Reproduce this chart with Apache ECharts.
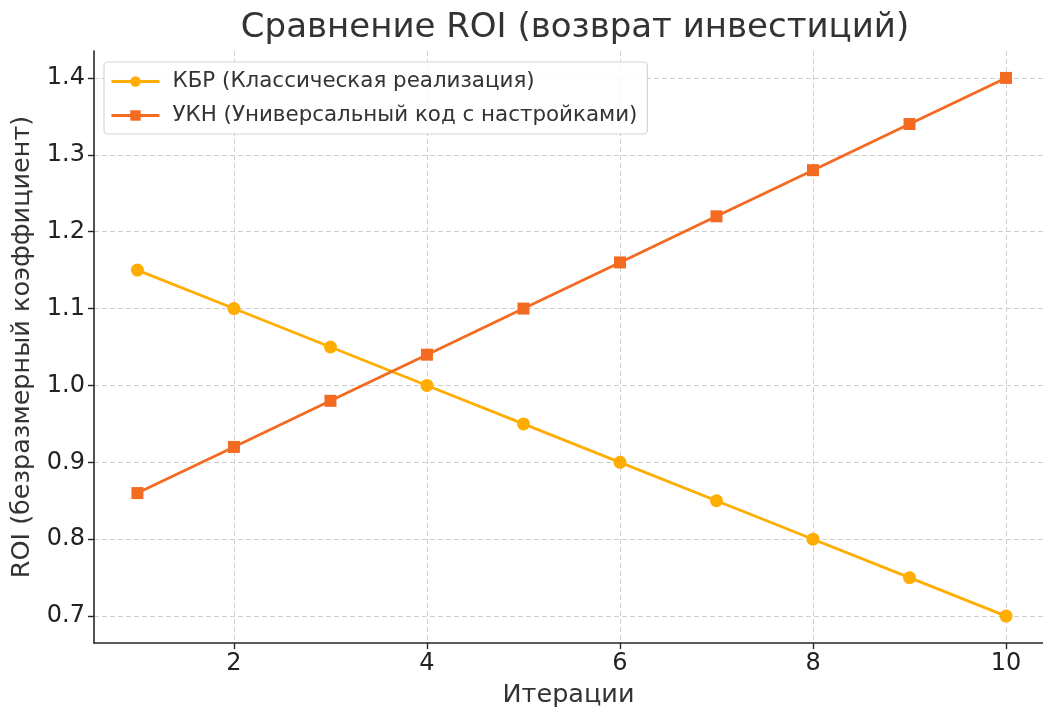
<!DOCTYPE html>
<html>
<head>
<meta charset="utf-8">
<script src="https://cdn.jsdelivr.net/npm/echarts@6/dist/echarts.min.js"></script>
<style>
  html, body { margin: 0; padding: 0; background: #fff; overflow: hidden; }
  #chart { width: 1043px; height: 713px; }
</style>
</head>
<body>
<div id="chart"></div>
<script>
// Iteration numbers and ROI values for the two implementations
const iterations = [1, 2, 3, 4, 5, 6, 7, 8, 9, 10];
const roiKBR = [1.15, 1.10, 1.05, 1.00, 0.95, 0.90, 0.85, 0.80, 0.75, 0.70];
const roiUKN = [0.86, 0.92, 0.98, 1.04, 1.10, 1.16, 1.22, 1.28, 1.34, 1.40];
const xTicks = [2, 4, 6, 8, 10];
const yTicks = [0.7, 0.8, 0.9, 1.0, 1.1, 1.2, 1.3, 1.4];

const nameKBR = 'КБР (Классическая реализация)';
const nameUKN = 'УКН (Универсальный код с настройками)';

const FONT = 'DejaVu Sans';
const chart = echarts.init(document.getElementById('chart'), null, { renderer: 'canvas' });

const gridLine = { show: true, lineStyle: { color: '#cfcfcf', width: 1, type: [5, 3] } };

chart.setOption({
  animation: false,
  backgroundColor: '#ffffff',
  textStyle: { fontFamily: FONT },
  title: {
    text: 'Сравнение ROI (возврат инвестиций)',
    left: 570, top: 6, textAlign: 'center',
    textStyle: { fontFamily: FONT, fontSize: 34, fontWeight: 'normal', color: '#333333' }
  },
  legend: {
    left: 104, top: 62, orient: 'vertical',
    itemWidth: 48, itemHeight: 13, itemGap: 13,
    padding: [9, 10, 8, 6],
    borderColor: '#d6d6d6', borderWidth: 1.2, borderRadius: 4,
    backgroundColor: 'rgba(255,255,255,0.85)',
    lineStyle: { width: 3 },
    textStyle: { fontFamily: FONT, fontSize: 21.4, color: '#333333', padding: [0, 0, 0, 8] },
    data: [nameKBR, nameUKN]
  },
  grid: { left: 94, right: 0, top: 51, bottom: 67, containLabel: false },
  xAxis: {
    type: 'value', min: 0.55, max: 10.383,
    name: 'Итерации', nameLocation: 'middle', nameGap: 39,
    nameTextStyle: { fontFamily: FONT, fontSize: 25.5, color: '#333333' },
    axisLine: { show: true, onZero: false, lineStyle: { color: '#262626', width: 1.6 } },
    axisTick: { show: true, length: 6, inside: false, customValues: xTicks, lineStyle: { color: '#262626', width: 1.4 } },
    axisLabel: { customValues: xTicks, fontFamily: FONT, fontSize: 24, color: '#222222', margin: 9 },
    splitLine: gridLine
  },
  yAxis: {
    type: 'value', min: 0.665, max: 1.435,
    name: 'ROI (безразмерный коэффициент)', nameLocation: 'middle', nameGap: 59, nameRotate: 90,
    nameTextStyle: { fontFamily: FONT, fontSize: 25.5, color: '#333333' },
    axisLine: { show: true, onZero: false, lineStyle: { color: '#262626', width: 1.6 } },
    axisTick: { show: true, length: 6, inside: false, customValues: yTicks, lineStyle: { color: '#262626', width: 1.4 } },
    axisLabel: { customValues: yTicks, fontFamily: FONT, fontSize: 24, color: '#222222', margin: 9,
      formatter: v => v.toFixed(1) },
    splitLine: gridLine
  },
  series: [
    {
      name: nameKBR, type: 'line',
      data: iterations.map((x, i) => [x, roiKBR[i]]),
      symbol: 'circle', symbolSize: 13,
      lineStyle: { color: '#FFAD00', width: 2.8 },
      itemStyle: { color: '#FFAD00' },
      z: 2
    },
    {
      name: nameUKN, type: 'line',
      data: iterations.map((x, i) => [x, roiUKN[i]]),
      symbol: 'rect', symbolSize: 12,
      lineStyle: { color: '#F26B21', width: 2.8 },
      itemStyle: { color: '#F26B21' },
      z: 3
    }
  ]
});
</script>
</body>
</html>
